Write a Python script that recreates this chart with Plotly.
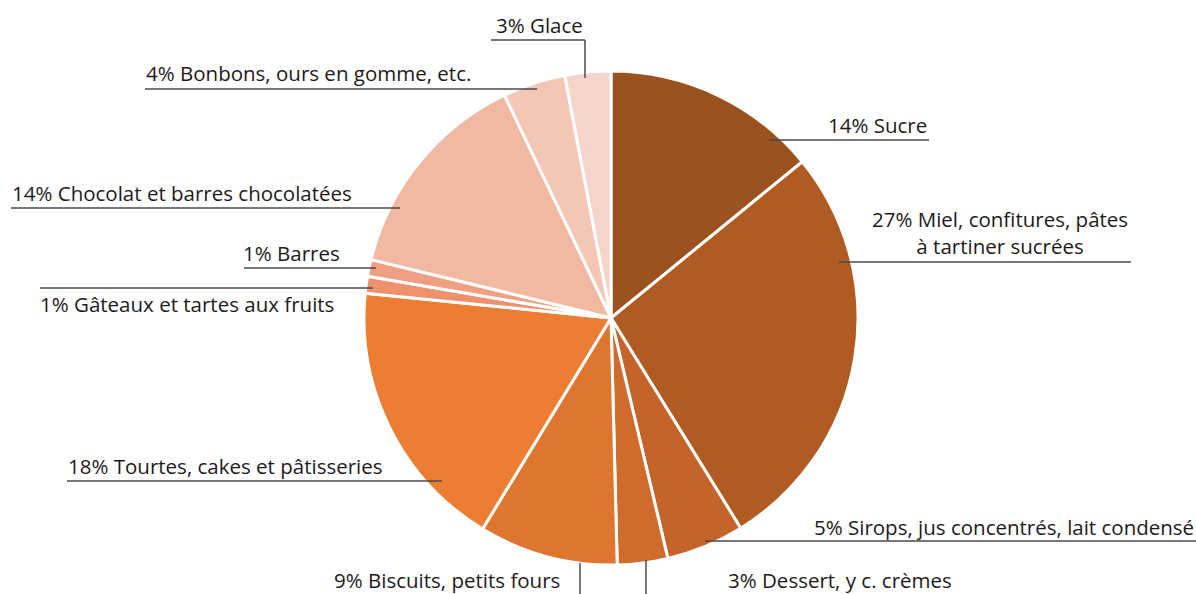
import plotly.graph_objects as go

W, H = 1196, 594

# Data (clockwise from 12 o'clock)
categories = ["Sucre", "Miel, confitures, pâtes<br>à tartiner sucrées",
              "Sirops, jus concentrés, lait condensé", "Dessert, y c. crèmes",
              "Biscuits, petits fours", "Tourtes, cakes et pâtisseries",
              "Gâteaux et tartes aux fruits", "Barres",
              "Chocolat et barres chocolatées", "Bonbons, ours en gomme, etc.", "Glace"]
shares = [14.1, 27.1, 5.1, 3.3, 9.1, 17.9, 1.1, 1.1, 14.1, 4.1, 3.0]
pct_labels = [14, 27, 5, 3, 9, 18, 1, 1, 14, 4, 3]
colors = ["#9B521E", "#AF5B22", "#C4632A", "#CF6B2C", "#DE7630", "#EB7E33",
          "#EE916C", "#EF9F82", "#F2B9A2", "#F4C6B6", "#F5D4CB"]

FONT = "Open Sans"
FS = 20.5
TXT = "#1E1A1B"
LINE = "#4a4a4a"

def px(x):
    return x / W

def py(y):
    return 1 - y / H

cx, cy, r = 611, 318, 247

fig = go.Figure(go.Pie(
    values=shares, labels=categories, sort=False, direction="clockwise",
    rotation=0, marker=dict(colors=colors, line=dict(color="white", width=3)),
    textinfo="none", hoverinfo="skip", showlegend=False,
    domain=dict(x=[px(cx - r), px(cx + r)], y=[py(cy + r), py(cy - r)]),
))

# label layout: (index, text x, text y center, xanchor, leader polyline points)
label_layout = [
    (10, 584, 25, "right", [(491, 40), (585, 40), (585, 78)]),
    (9, 145, 73, "left", [(145, 89), (537, 89)]),
    (0, 928, 125, "right", [(769, 140), (929, 140)]),
    (1, 1000, 232, "center", [(839, 262), (1131, 262)]),
    (8, 11, 193, "left", [(11, 208), (400, 208)]),
    (7, 341, 253, "right", [(244, 268), (376, 268)]),
    (6, 39, 304, "left", [(40, 288), (373, 288)]),
    (5, 67, 466, "left", [(67, 481), (442, 481)]),
    (4, 561, 580, "right", [(580, 563), (580, 594)]),
    (3, 727, 580, "left", [(646, 560), (646, 594)]),
    (2, 1195, 527, "right", [(705, 541), (1196, 541)]),
]

annotations = []
shapes = []
for idx, tx, ty, anchor, pts in label_layout:
    annotations.append(dict(
        x=px(tx), y=py(ty), xref="paper", yref="paper",
        text=f"{pct_labels[idx]}% {categories[idx]}", showarrow=False,
        xanchor=anchor, yanchor="middle", align="center",
        font=dict(family=FONT, size=FS, color=TXT), borderpad=0,
    ))
    for (x0, y0), (x1, y1) in zip(pts[:-1], pts[1:]):
        shapes.append(dict(type="line", xref="paper", yref="paper",
                           x0=px(x0), y0=py(y0), x1=px(x1), y1=py(y1),
                           line=dict(color=LINE, width=1.5)))

fig.update_layout(
    width=W, height=H, margin=dict(l=0, r=0, t=0, b=0),
    paper_bgcolor="white", plot_bgcolor="white",
    annotations=annotations, shapes=shapes,
)

fig.write_html("out.html", config={"displayModeBar": False},
               post_script="document.body.style.margin='0';document.body.style.overflow='hidden';")
